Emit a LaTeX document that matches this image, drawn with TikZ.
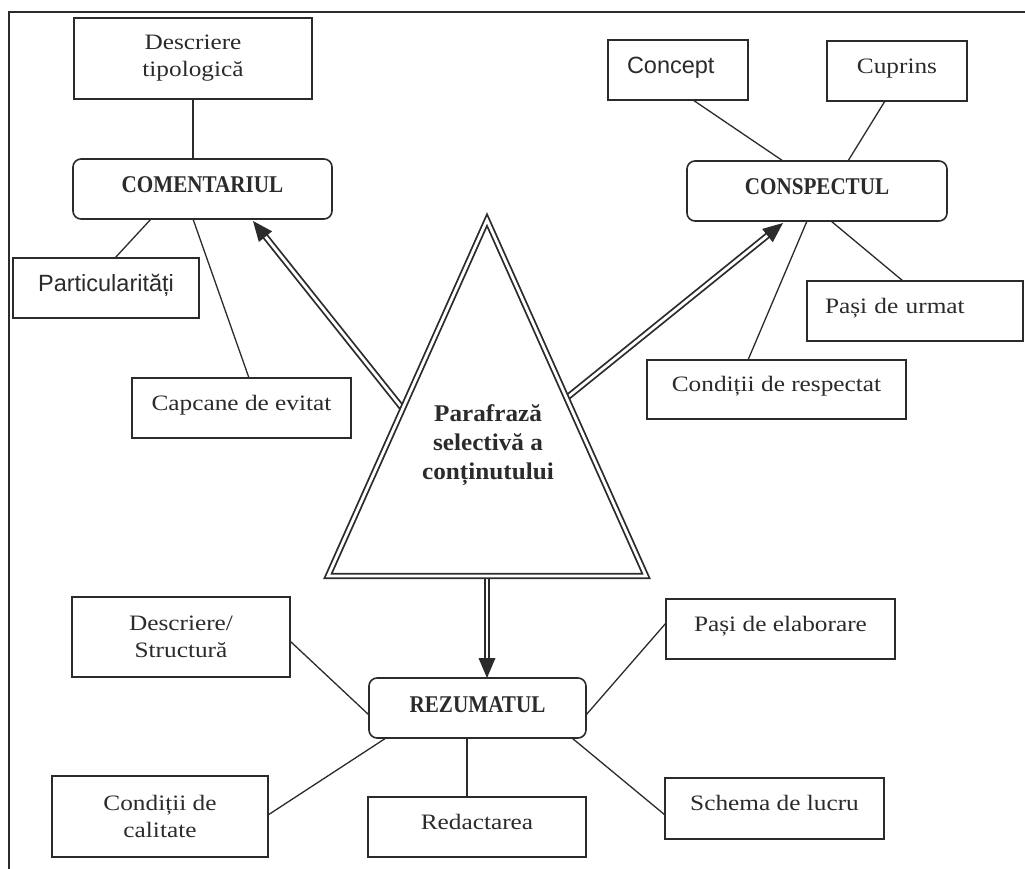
\documentclass[tikz,border=0pt]{standalone}
\usepackage{fontspec}
\setmainfont{Liberation Serif}[FakeStretch=1.15]
\newfontfamily\titlefont{Liberation Serif}[FakeStretch=0.88]
\newfontfamily\corefont{Liberation Serif}[FakeStretch=1.05]
\newfontfamily\arialfont{Liberation Sans}
\usetikzlibrary{calc}
\definecolor{ink}{HTML}{2B2B2B}

% double-lined arrow with a filled triangular head: #1 start, #2 tip
\newcommand{\dblarrow}[2]{%
  \coordinate (hb) at ($(#2)!20pt!(#1)$);
  \draw[dbl] (#1) -- ($(#2)!18pt!(#1)$);
  \fill[ink] (#2) -- ($(hb)!8.5pt!90:(#2)$) -- ($(hb)!8.5pt!-90:(#2)$) -- cycle;}

\begin{document}
\begin{tikzpicture}[x=1pt,y=-1pt,
  box/.style={draw=ink, line width=1.6pt, inner sep=0pt, outer sep=0pt,
    align=center, text=ink, font=\fontsize{22}{27}\selectfont},
  onebox/.style={box, text height=15pt, text depth=10.5pt},
  headbox/.style={box, rounded corners=8pt,
    font=\titlefont\bfseries\fontsize{24}{28}\selectfont,
    text height=16pt, text depth=8pt},
  sansbox/.style={box, font=\arialfont\fontsize{23.5}{28}\selectfont,
    text height=17pt, text depth=10pt},
  link/.style={draw=ink, line width=1.3pt},
  dbl/.style={draw=ink, line width=1.8pt, double=white, double distance=2.8pt},
  frame/.style={draw=ink, line width=1.6pt}]

\useasboundingbox (0,0) rectangle (1025,869);
\fill[white] (0,0) rectangle (1025,869);

% page frame
\draw[frame] (1025,12) -- (9,12) -- (9,869);

% --- COMENTARIUL branch
\node[headbox, minimum width=259pt, minimum height=60pt] (cmt) at (202.5,189) {COMENTARIUL};
\node[box, minimum width=238pt, minimum height=81pt] (desc) at (193,58.5) {Descriere\\tipologică};
\node[sansbox, minimum width=186pt, minimum height=60pt] (part) at (106,288) {Particularități};
\node[onebox, minimum width=219pt, minimum height=60pt] (capc) at (241.5,408) {Capcane de evitat};

\draw[link] (desc.south) -- (desc.south |- cmt.north);
\draw[link] ($(cmt.south)+(-51.5,0)$) -- ($(part.north)+(9,0)$);
\draw[link] ($(cmt.south)+(-9.5,0)$) -- ($(capc.north)+(7.5,0)$);

% --- CONSPECTUL branch
\node[headbox, minimum width=260pt, minimum height=60pt] (csp) at (817,191) {CONSPECTUL};
\node[sansbox, align=left, text width=102pt, minimum width=140pt, minimum height=60pt] (concept) at (678,70) {Concept};
\node[onebox, minimum width=140pt, minimum height=60pt] (cuprins) at (897,71) {Cuprins};
\node[onebox, align=left, text width=180pt, minimum width=216pt, minimum height=60pt] (pasi) at (915,311) {Pași de urmat};
\node[onebox, minimum width=259pt, minimum height=59pt] (cond) at (776.5,389.5) {Condiții de respectat};

\draw[link] ($(concept.south)+(15,0)$) -- ($(csp.north)+(-34,0)$);
\draw[link] ($(cuprins.south)+(-12,0)$) -- ($(csp.north)+(31,0)$);
\draw[link] ($(csp.south)+(14,0)$) -- ($(pasi.north)+(-12,0)$);
\draw[link] ($(csp.south)+(-10,0)$) -- ($(cond.north)+(-28.5,0)$);

% --- REZUMATUL branch
\node[headbox, minimum width=217pt, minimum height=60pt] (rez) at (477.5,708) {REZUMATUL};
\node[box, minimum width=218pt, minimum height=80pt] (descs) at (181,637) {Descriere/\\Structură};
\node[onebox, minimum width=229pt, minimum height=60pt] (pel) at (780.5,629) {Pași de elaborare};
\node[box, minimum width=216pt, minimum height=81pt] (condc) at (160,816.5) {Condiții de\\calitate};
\node[onebox, minimum width=218pt, minimum height=60pt] (red) at (477,827) {Redactarea};
\node[onebox, minimum width=219pt, minimum height=61pt] (sch) at (774.5,808.5) {Schema de lucru};

\draw[link] ($(descs.east)+(0,4)$) -- ($(rez.west)+(0,7)$);
\draw[link] ($(pel.west)+(0,-6)$) -- ($(rez.east)+(0,7)$);
\draw[link] ($(rez.south west)+(17,0)$) -- ($(condc.east)+(0,-1.5)$);
\draw[link] ($(rez.south)+(-10.5,0)$) -- ($(red.north)+(-10,0)$);
\draw[link] ($(rez.south east)+(-14,0)$) -- ($(sch.west)+(0,6.5)$);

% --- central triangle and its three arrows
\coordinate (apex) at (487,220);
\coordinate (bl) at (328,576);
\coordinate (br) at (646,576);
\coordinate (sL) at ($(apex)!0.53!(bl)$);
\coordinate (tL) at ($(cmt.south)+(50.5,2)$);
\coordinate (sR) at ($(apex)!0.5!(br)$);
\coordinate (tR) at ($(csp.south)+(-34,2)$);
\coordinate (sD) at ($(bl)!0.5!(br)$);
\coordinate (tD) at (rez.north -| sD);

\dblarrow{sL}{tL}
\dblarrow{sR}{tR}
\dblarrow{sD}{tD}

\draw[dbl, fill=white] (apex) -- (bl) -- (br) -- cycle;
\node[font=\corefont\bfseries\fontsize{24}{29}\selectfont, align=center, text=ink] (core)
  at (488,445) {Parafrază\\selectivă a\\conținutului};

\end{tikzpicture}
\end{document}
